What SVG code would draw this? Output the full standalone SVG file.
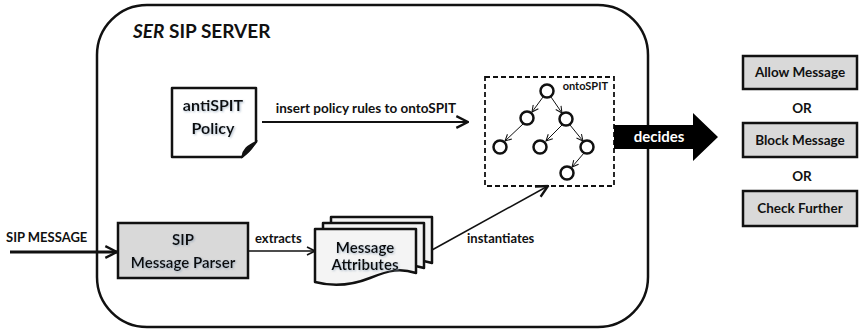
<svg xmlns="http://www.w3.org/2000/svg" width="859" height="330" viewBox="0 0 859 330">
<defs>
<style>
text{font-family:Lato,"Liberation Sans",sans-serif;font-weight:bold;fill:#111}
.box{fill:#d9d9d9;stroke:#111;stroke-width:2.5}
.lbl{font-size:14px;text-anchor:middle}
.ln{fill:none;stroke:#111}
.nd{fill:#fff;stroke:#111;stroke-width:2.5}
.doc{fill:#f4f4f4;stroke:#111;stroke-width:2.5;stroke-linejoin:round}
.sh{filter:url(#glow)}
</style>
<filter id="glow" x="-20%" y="-40%" width="140%" height="180%">
<feGaussianBlur in="SourceAlpha" stdDeviation="1.2" result="b"/>
<feOffset dx="1" dy="1" in="b" result="o"/>
<feFlood flood-color="#8fa3b8" flood-opacity="0.7"/>
<feComposite in2="o" operator="in" result="s"/>
<feMerge><feMergeNode in="s"/><feMergeNode in="SourceGraphic"/></feMerge>
</filter>
<marker id="open" viewBox="0 0 10 10" refX="9" refY="5" markerWidth="10" markerHeight="10" markerUnits="userSpaceOnUse" orient="auto">
<path d="M1,1 L9,5 L1,9" fill="none" stroke="#111" stroke-width="1.6"/>
</marker>
<marker id="openL" viewBox="0 0 12 12" refX="11" refY="6" markerWidth="14" markerHeight="14" markerUnits="userSpaceOnUse" orient="auto">
<path d="M1,1 L11,6 L1,11" fill="none" stroke="#111" stroke-width="2"/>
</marker>
<marker id="small" viewBox="0 0 10 10" refX="9" refY="5" markerWidth="8" markerHeight="8" markerUnits="userSpaceOnUse" orient="auto">
<path d="M1,1 L9,5 L1,9" fill="none" stroke="#111" stroke-width="1.3"/>
</marker>
</defs>
<rect width="859" height="330" fill="#fff"/>

<g id="server">
<rect x="97" y="5" width="551" height="322" rx="50" ry="50" fill="none" stroke="#111" stroke-width="2.5"/>
<text x="133" y="38" font-size="19"><tspan font-style="italic">SER</tspan> SIP SERVER</text>
</g>

<g id="policy">
<path d="M172,88 H256 V142 L242,157 H172 Z" fill="#fff" stroke="#111" stroke-width="2.5" stroke-linejoin="round"/>
<path d="M242,157 C243,150 247,146 256,142 C252,148 250,152 242,157 Z" fill="#111" stroke="#111" stroke-width="1.5"/>
<text class="lbl sh" x="213" y="111" style="font-size:16px">antiSPIT</text>
<text class="lbl sh" x="213" y="134" style="font-size:16px">Policy</text>
</g>

<g id="ontospit">
<rect x="485" y="77" width="129" height="109" fill="none" stroke="#111" stroke-width="1.8" stroke-dasharray="5,3"/>
<text x="608" y="90" font-size="11" text-anchor="end">ontoSPIT</text>
<g id="tree-edges" class="ln" stroke-width="1">
<line x1="543" y1="97" x2="532" y2="112" marker-end="url(#small)"/>
<line x1="551" y1="97" x2="562" y2="113" marker-end="url(#small)"/>
<line x1="523" y1="124" x2="505" y2="141" marker-end="url(#small)"/>
<line x1="562" y1="125" x2="546" y2="141" marker-end="url(#small)"/>
<line x1="570" y1="125" x2="583" y2="141" marker-end="url(#small)"/>
<line x1="584" y1="153" x2="572" y2="167" marker-end="url(#small)"/>
</g>
<circle class="nd" cx="547" cy="91" r="6.5"/>
<circle class="nd" cx="527" cy="118" r="6.5"/>
<circle class="nd" cx="566" cy="119" r="6.5"/>
<circle class="nd" cx="500" cy="147" r="6.5"/>
<circle class="nd" cx="540" cy="147" r="6.5"/>
<circle class="nd" cx="587" cy="147" r="6.5"/>
<circle class="nd" cx="567" cy="173" r="6.5"/>
</g>

<g id="decides">
<path d="M614,125 H693 V113 L718,137 L693,161 V149 H614 Z" fill="#000"/>
<text x="659" y="142" font-size="15" text-anchor="middle" style="fill:#fff">decides</text>
</g>

<g id="allow">
<rect class="box" x="743" y="56" width="114" height="33"/>
<text class="lbl" x="800" y="77" style="font-size:13.5px">Allow Message</text>
</g>
<text class="lbl" x="802" y="113" style="font-size:13.5px">OR</text>
<g id="block">
<rect class="box" x="743" y="123" width="114" height="34"/>
<text class="lbl" x="800" y="145" style="font-size:13.5px">Block Message</text>
</g>
<text class="lbl" x="802" y="181" style="font-size:13.5px">OR</text>
<g id="check">
<rect class="box" x="743" y="191" width="114" height="35"/>
<text class="lbl" x="800" y="213" style="font-size:13.5px">Check Further</text>
</g>

<g id="sipmsg">
<text x="6" y="242" font-size="13">SIP MESSAGE</text>
</g>

<g id="parser">
<rect class="box" x="118" y="223" width="130" height="55"/>
<text class="lbl sh" x="183" y="245" style="font-size:15px">SIP</text>
<text class="lbl sh" x="183" y="268" style="font-size:15px">Message Parser</text>
</g>

<g id="attributes">
<path class="doc" d="M331,217 H432 V263 C416,258 406,260 386,268 C366,276 346,276 331,272 Z"/>
<path class="doc" d="M323,223 H424 V268 C408,263 398,265 378,273 C358,281 338,281 323,277 Z"/>
<path class="doc" d="M315,229 H416 V273 C400,268 390,270 370,278 C350,286 330,286 315,282 Z"/>
<text class="lbl sh" x="365" y="253" style="font-size:15px">Message</text>
<text class="lbl sh" x="365" y="270" style="font-size:15px">Attributes</text>
</g>

<g id="connectors">
<line x1="262" y1="122" x2="468" y2="122" class="ln" stroke-width="2" marker-end="url(#openL)"/>
<text x="366" y="113" font-size="13.5" text-anchor="middle">insert policy rules to ontoSPIT</text>
<line x1="10" y1="252" x2="117" y2="252" class="ln" stroke-width="3.2" marker-end="url(#openL)"/>
<line x1="248" y1="251" x2="315" y2="251" class="ln" stroke-width="1.3" marker-end="url(#open)"/>
<text x="255" y="243" font-size="13">extracts</text>
<line x1="432" y1="250" x2="548" y2="186" class="ln" stroke-width="1.5" marker-end="url(#openL)"/>
<text x="467" y="243" font-size="13">instantiates</text>
</g>
</svg>
